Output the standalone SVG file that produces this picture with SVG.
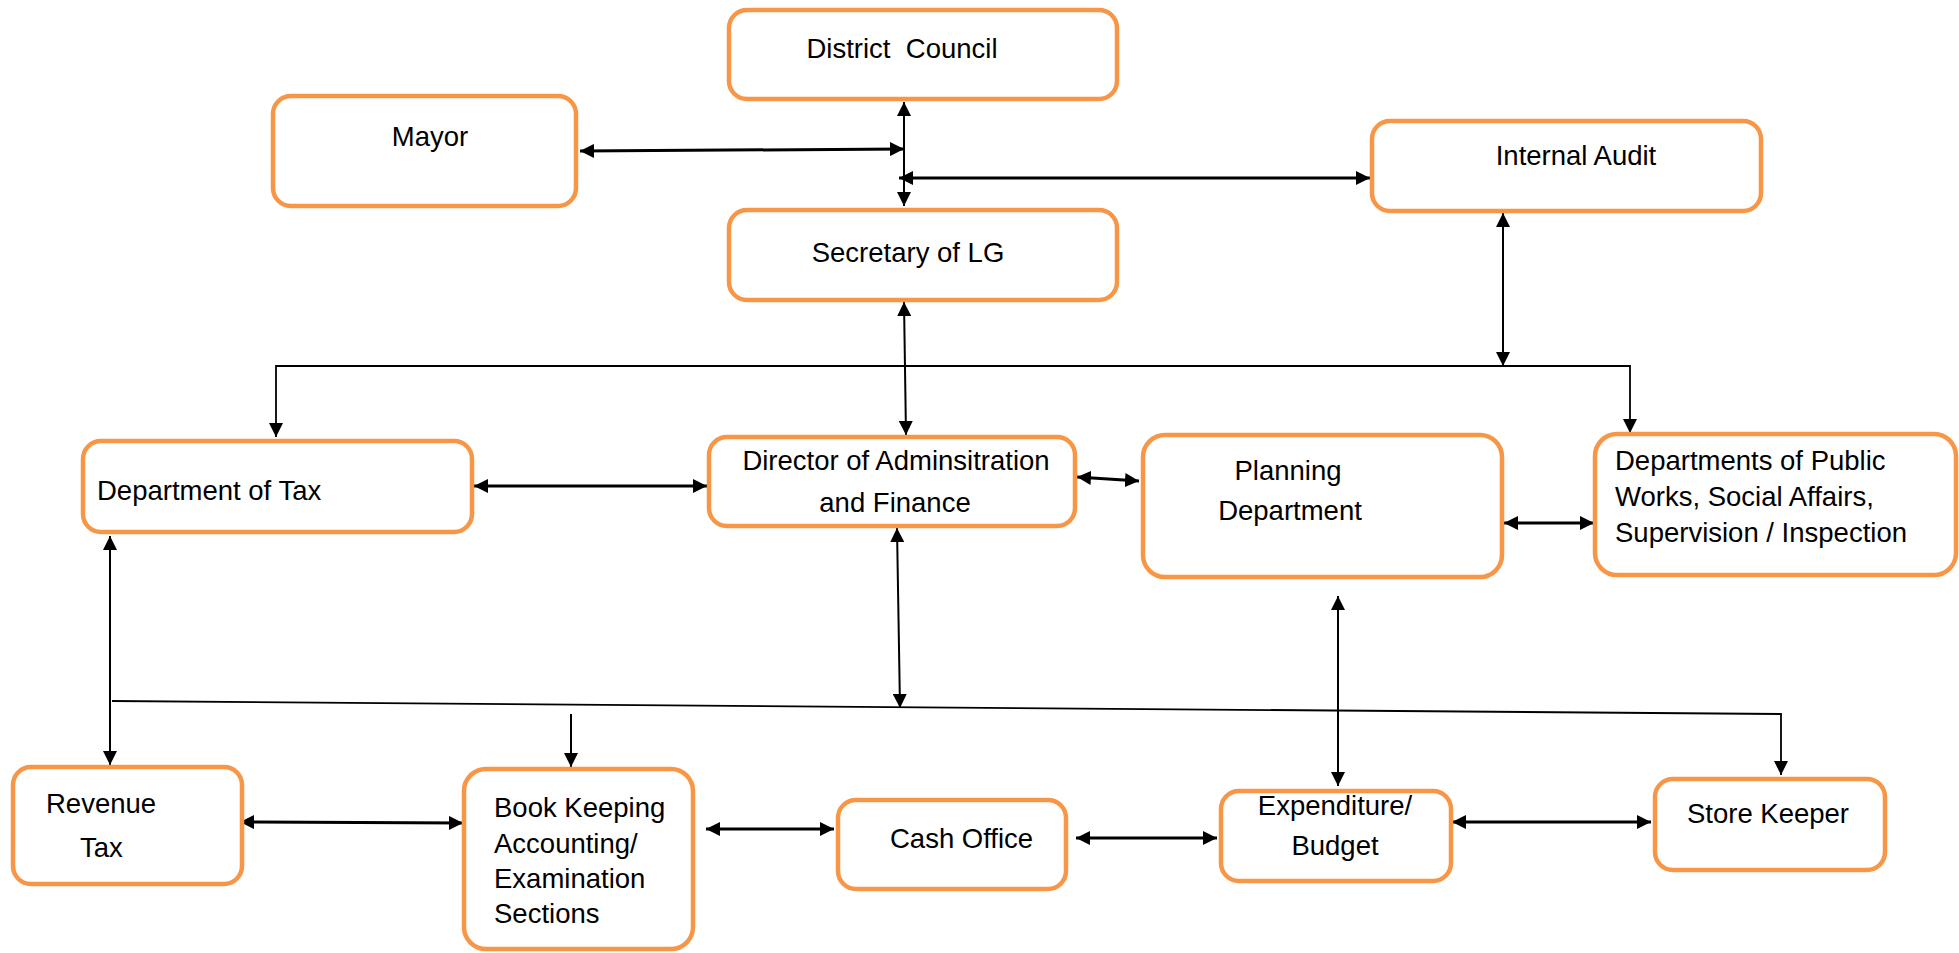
<svg xmlns="http://www.w3.org/2000/svg" width="1959" height="953" viewBox="0 0 1959 953">
<defs>
<marker id="ah" viewBox="0 0 14 14" refX="14" refY="7" markerWidth="14" markerHeight="14" markerUnits="userSpaceOnUse" orient="auto-start-reverse">
<path d="M0,0 L14,7 L0,14 z" fill="#000"/>
</marker>
<style>
.box{fill:#fff;stroke:#F79646;stroke-width:4.5}
.t{font-family:"Liberation Sans",Arial,sans-serif;font-size:27.5px;fill:#000}
.m{text-anchor:middle}
.c{fill:none;stroke:#000}
.thick{stroke-width:3}
.thin{stroke-width:2}
.bus{stroke-width:1.8}
.two{marker-start:url(#ah);marker-end:url(#ah)}
.one{marker-end:url(#ah)}
</style>
</defs>
<rect width="1959" height="953" fill="#fff"/>
<g id="connectors">
<path class="c thin two" d="M904,102 L904,206"/>
<path class="c thick two" d="M580,151 L904,149"/>
<path class="c thick two" d="M899,178 L1370,178"/>
<path class="c thin two" d="M1503,213 L1503,366"/>
<path class="c bus two" d="M276,437 V366 H1630 V433"/>
<path class="c thin two" d="M904,302 L906,435"/>
<path class="c thick two" d="M474,486 L707,486"/>
<path class="c thick two" d="M1077,477 L1139,481"/>
<path class="c thick two" d="M1504,523 L1594,523"/>
<path class="c thin two" d="M110,536 L110,765"/>
<path class="c thin two" d="M897,528 L900,708"/>
<path class="c bus one" d="M112,701 L1781,714 V775"/>
<path class="c thin one" d="M571,714 L571,767"/>
<path class="c thin two" d="M1338,596 L1338,786"/>
<path class="c thick two" d="M240,822 L463,823"/>
<path class="c thick two" d="M706,829 L834,829"/>
<path class="c thick two" d="M1076,838 L1217,838"/>
<path class="c thick two" d="M1452,822 L1651,822"/>
</g>
<g id="district-council">
<rect class="box" x="729" y="10" width="388" height="89" rx="18"/>
<text class="t m" x="902" y="58" style="white-space:pre">District  Council</text>
</g>
<g id="mayor">
<rect class="box" x="273" y="96" width="303" height="110" rx="18"/>
<text class="t m" x="430" y="146">Mayor</text>
</g>
<g id="secretary">
<rect class="box" x="729" y="210" width="388" height="90" rx="18"/>
<text class="t m" x="908" y="262">Secretary of LG</text>
</g>
<g id="internal-audit">
<rect class="box" x="1372" y="121" width="389" height="90" rx="18"/>
<text class="t m" x="1576" y="165">Internal Audit</text>
</g>
<g id="dept-tax">
<rect class="box" x="83" y="441" width="389" height="91" rx="18"/>
<text class="t" x="97" y="500">Department of Tax</text>
</g>
<g id="director">
<rect class="box" x="709" y="437" width="366" height="89" rx="18"/>
<text class="t m" x="896" y="470">Director of Adminsitration</text>
<text class="t m" x="895" y="512">and Finance</text>
</g>
<g id="planning">
<rect class="box" x="1143" y="435" width="359" height="142" rx="22"/>
<text class="t m" x="1288" y="480">Planning</text>
<text class="t m" x="1290" y="520">Department</text>
</g>
<g id="public-works">
<rect class="box" x="1595" y="434" width="361" height="141" rx="22"/>
<text class="t" x="1615" y="470">Departments of Public</text>
<text class="t" x="1615" y="506">Works, Social Affairs,</text>
<text class="t" x="1615" y="542">Supervision / Inspection</text>
</g>
<g id="revenue-tax">
<rect class="box" x="13" y="767" width="229" height="117" rx="18"/>
<text class="t" x="46" y="813">Revenue</text>
<text class="t" x="80" y="857">Tax</text>
</g>
<g id="book-keeping">
<rect class="box" x="464" y="769" width="229" height="180" rx="22"/>
<text class="t" x="494" y="817">Book Keeping</text>
<text class="t" x="494" y="853">Accounting/</text>
<text class="t" x="494" y="888">Examination</text>
<text class="t" x="494" y="923">Sections</text>
</g>
<g id="cash-office">
<rect class="box" x="838" y="800" width="228" height="89" rx="18"/>
<text class="t" x="890" y="848">Cash Office</text>
</g>
<g id="expenditure">
<rect class="box" x="1221" y="791" width="230" height="90" rx="18"/>
<text class="t m" x="1335" y="815">Expenditure/</text>
<text class="t m" x="1335" y="855">Budget</text>
</g>
<g id="store-keeper">
<rect class="box" x="1655" y="779" width="230" height="91" rx="18"/>
<text class="t m" x="1768" y="823">Store Keeper</text>
</g>
</svg>
